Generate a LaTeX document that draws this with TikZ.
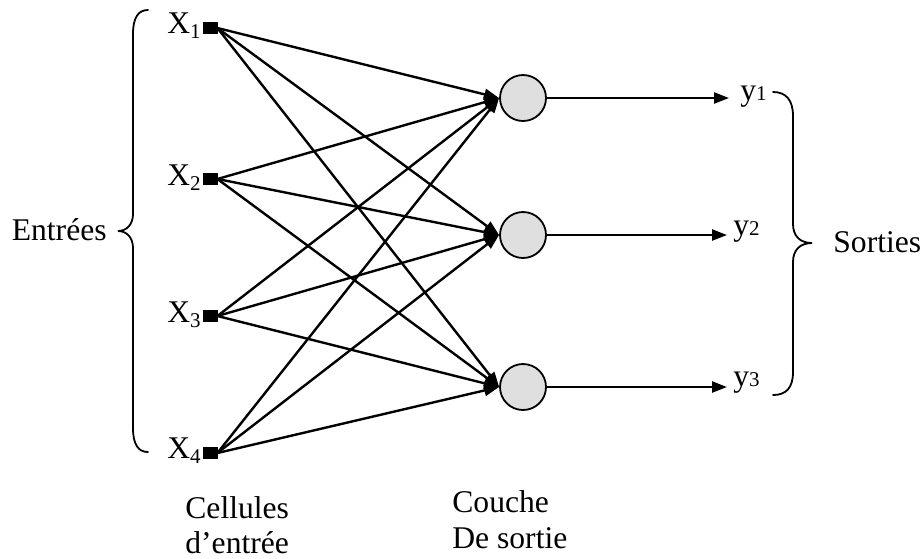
\documentclass[tikz,border=0pt]{standalone}
\usepackage{fontspec}
\setmainfont{Liberation Serif}
\usetikzlibrary{arrows.meta}

\newcommand{\lowsub}[1]{\raisebox{-0.18em}{\fontsize{10.5}{11}\selectfont #1}}
\newcommand{\flatsub}[1]{{\fontsize{10.5}{11}\selectfont #1}}

\begin{document}
\begin{tikzpicture}[x=0.5pt, y=-0.5pt,
    font=\fontsize{15.8}{17.5}\selectfont,
    cell/.style={draw, fill=black, minimum width=7pt, minimum height=5.8pt, inner sep=0pt},
    neuron/.style={circle, draw, line width=0.9pt, fill=gray!25, minimum size=23pt, inner sep=0pt},
    link/.style={line width=1.2pt, -{Triangle[length=7.5pt, width=5.5pt]}},
    lbl/.style={inner sep=0pt},
    brace/.style={line width=0.9pt, line cap=round}]

  \useasboundingbox (0,0) rectangle (924,558);

  % input cells
  \node[cell] (x1) at (210,28) {};
  \node[cell] (x2) at (210,179) {};
  \node[cell] (x3) at (210,316) {};
  \node[cell] (x4) at (210,453) {};

  \node[lbl, anchor=base east] (lx1) at (201,33) {X\lowsub{1}};
  \node[lbl, anchor=base east] (lx2) at (201,185) {X\lowsub{2}};
  \node[lbl, anchor=base east] (lx3) at (201,322) {X\lowsub{3}};
  \node[lbl, anchor=base east] (lx4) at (201,458) {X\lowsub{4}};

  % output layer
  \node[neuron] (c1) at (523,98) {};
  \node[neuron] (c2) at (523,235) {};
  \node[neuron] (c3) at (523,387) {};

  % full connections from every input cell to every output neuron
  \foreach \i in {1,...,4}
    \foreach \j in {1,2,3}
      \draw[link] (x\i.east) -- (c\j.west);

  % outputs
  \coordinate (o1) at (729,98);
  \coordinate (o2) at (727,235);
  \coordinate (o3) at (727,387);
  \draw[link] (c1.east) -- (o1);
  \draw[link] (c2.east) -- (o2);
  \draw[link] (c3.east) -- (o3);

  \node[lbl, anchor=base west] (ly1) at (740,100) {y\flatsub{1}};
  \node[lbl, anchor=base west] (ly2) at (733,235) {y\flatsub{2}};
  \node[lbl, anchor=base west] (ly3) at (733,386) {y\flatsub{3}};

  % left brace
  \draw[brace] (148,10) .. controls (138,10) and (133,18) .. (133,34)
    -- (133,214) .. controls (133,224) and (127,231) .. (118,231)
    .. controls (127,231) and (133,238) .. (133,248)
    -- (133,428) .. controls (133,444) and (138,452) .. (148,452);
  \node[lbl, anchor=base east] (inp) at (107,240) {Entrées};

  % right brace
  \draw[brace] (773,92) .. controls (786,92) and (793,100) .. (793,116)
    -- (793,224) .. controls (793,236) and (800,243) .. (812,243)
    .. controls (800,243) and (793,250) .. (793,262)
    -- (793,372) .. controls (793,388) and (786,395) .. (773,395);
  \node[lbl, anchor=base west] (outp) at (833,252) {Sorties};

  % layer captions
  \node[lbl, anchor=base west] (cap1a) at (185,518) {Cellules};
  \node[lbl, anchor=base west] (cap1b) at (185,553) {d’entrée};
  \node[lbl, anchor=base west] (cap2a) at (452,512) {Couche};
  \node[lbl, anchor=base west] (cap2b) at (452,548) {De sortie};
\end{tikzpicture}
\end{document}
